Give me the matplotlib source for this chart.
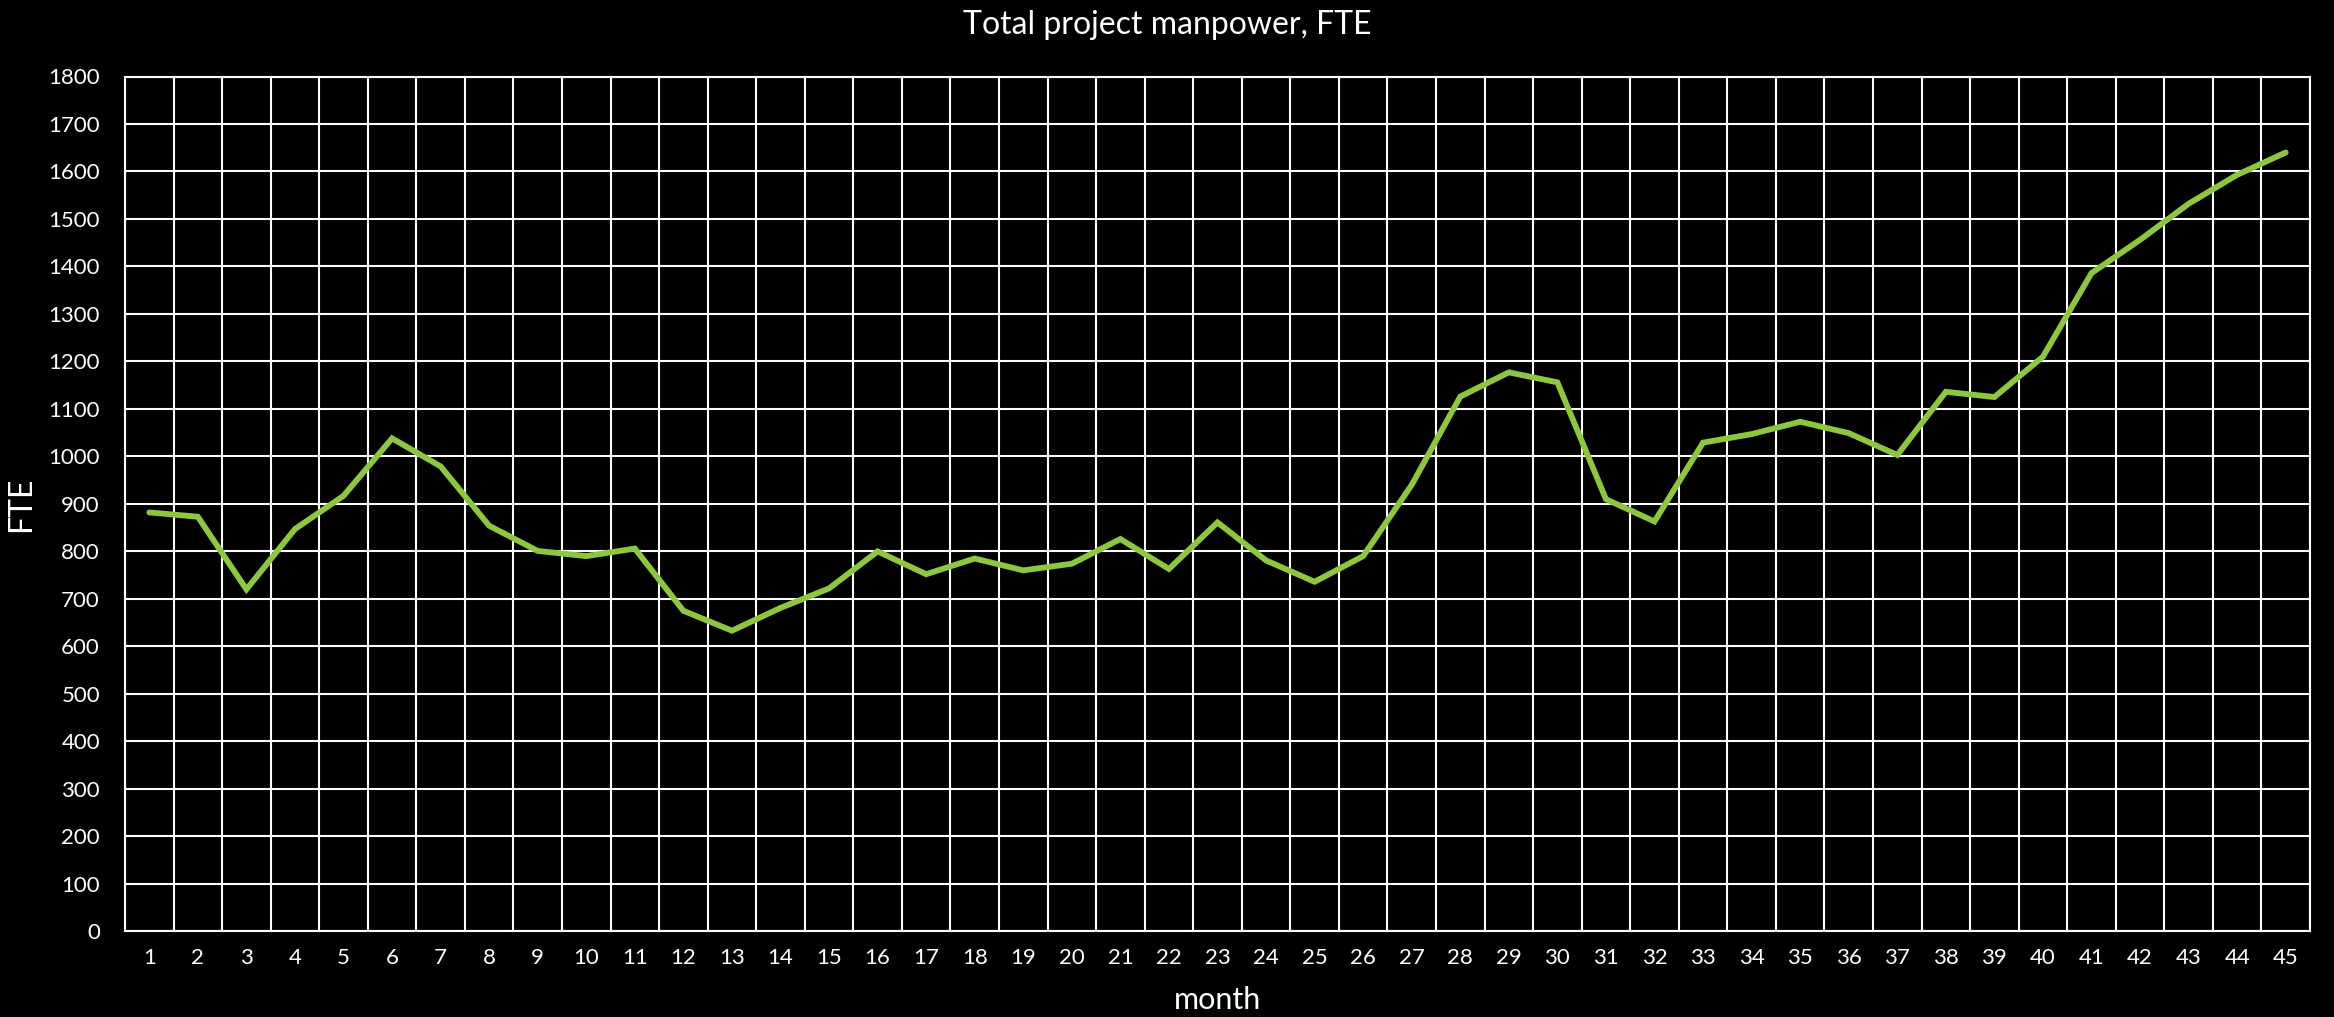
import matplotlib
matplotlib.use("Agg")
import matplotlib.pyplot as plt
from matplotlib.ticker import FixedLocator

months = list(range(1, 46))
fte = [882, 873, 720, 847, 917, 1038, 979, 854, 801, 790,
       806, 675, 633, 681, 722, 800, 752, 785, 760, 774,
       826, 763, 861, 781, 736, 790, 940, 1126, 1177, 1156,
       910, 863, 1029, 1047, 1073, 1049, 1003, 1136, 1125, 1210,
       1386, 1456, 1532, 1593, 1640]
yticks = list(range(0, 1801, 100))

plt.rcParams['font.family'] = ['Lato', 'DejaVu Sans']

fig = plt.figure(figsize=(23.34, 10.17), dpi=100, facecolor='black')
ax = fig.add_axes([125/2334, 1-931.3/1017, (2310-125)/2334, (931.3-76.5)/1017])
ax.set_facecolor('black')

ax.plot(months, fte, color='#8DC63F', lw=4.2, solid_capstyle='round',
        solid_joinstyle='miter', zorder=3)

ax.set_xlim(0.5, 45.5)
ax.set_ylim(0, 1800)
ax.set_yticks(yticks)
ax.set_xticks(months)
ax.set_xticklabels([str(m) for m in months])
ax.xaxis.set_minor_locator(FixedLocator([m + 0.5 for m in range(0, 46)]))

ax.grid(which='major', axis='y', color='white', lw=1.5)
ax.grid(which='minor', axis='x', color='white', lw=1.5)
ax.tick_params(which='both', length=0)
ax.tick_params(axis='y', labelsize=16, colors='white', pad=18)
ax.tick_params(axis='x', labelsize=16, colors='white', pad=12)
for s in ax.spines.values():
    s.set_color('white')
    s.set_linewidth(1.5)

fig.suptitle('Total project manpower, FTE', color='white', fontsize=23, y=0.99)
ax.set_xlabel('month', color='white', fontsize=22, labelpad=13)
ax.set_ylabel('FTE', color='white', fontsize=23, labelpad=9)

fig.savefig('out.png', dpi=100, facecolor='black')
